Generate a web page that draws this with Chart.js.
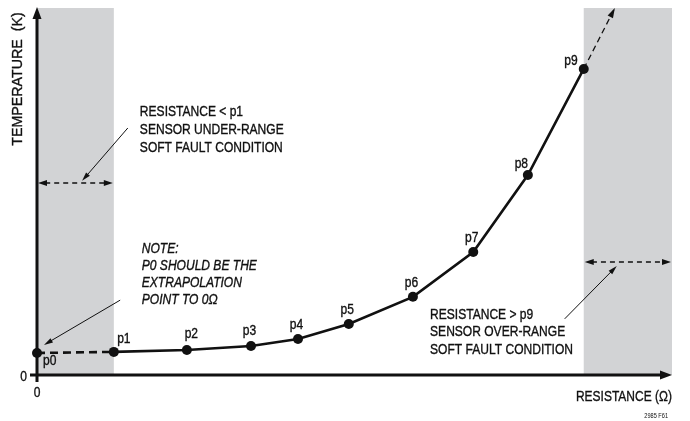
<!DOCTYPE html>
<html>
<head>
<meta charset="utf-8">
<script src="https://cdn.jsdelivr.net/npm/chart.js@4.4.1/dist/chart.umd.min.js"></script>
<style>
  html, body { margin: 0; padding: 0; background: #fff; }
</style>
</head>
<body>
<canvas id="sensorChart" width="690" height="421"></canvas>
<script>
// curve points (arbitrary units, 0..100 on both axes)
const pointNames  = ['p0', 'p1', 'p2', 'p3', 'p4', 'p5', 'p6', 'p7', 'p8', 'p9'];
const resistance  = [0, 12.1, 23.6, 33.7, 41.1, 49.1, 59.2, 68.7, 77.3, 86.1];
const temperature = [6.0, 6.3, 6.8, 7.9, 9.8, 13.9, 21.3, 33.5, 54.5, 83.4];
// dashed continuation past p9
const extensionX = [86.1, 91.0];
const extensionY = [83.4, 100];
// fault bands along the resistance axis
const underRange = [0, 12.1];
const overRange  = [86.1, 100];
const xTickLabels = ['0'];
const yTickLabels = ['0'];

const FONT = '"Liberation Sans", Arial, sans-serif';
const INK = '#111';

function drawText(ctx, text, x, y, size, opts) {
  opts = opts || {};
  const weight = opts.weight === undefined ? 0.35 : opts.weight;
  ctx.save();
  ctx.font = (opts.italic ? 'italic ' : '') + size + 'px ' + FONT;
  ctx.fillStyle = INK;
  ctx.strokeStyle = INK;
  ctx.textBaseline = 'alphabetic';
  ctx.translate(x, y);
  if (opts.rotate) ctx.rotate(opts.rotate);
  ctx.scale(opts.squeeze || 0.86, 1);
  const w = ctx.measureText(text).width;
  let dx = 0;
  if (opts.align === 'right') dx = -w;
  else if (opts.align === 'center') dx = -w / 2;
  ctx.fillText(text, dx, 0);
  if (weight > 0) {
    ctx.lineWidth = weight;
    ctx.strokeText(text, dx, 0);
  }
  ctx.restore();
}

function arrowHead(ctx, x1, y1, x2, y2, len, width) {
  const a = Math.atan2(y2 - y1, x2 - x1);
  ctx.save();
  ctx.translate(x2, y2);
  ctx.rotate(a);
  ctx.beginPath();
  ctx.moveTo(0, 0);
  ctx.lineTo(-len, width / 2);
  ctx.lineTo(-len, -width / 2);
  ctx.closePath();
  ctx.fill();
  ctx.restore();
}

// line from (x1,y1) to (x2,y2) with arrow at the end(s)
function arrowLine(ctx, x1, y1, x2, y2, o) {
  ctx.save();
  ctx.strokeStyle = INK;
  ctx.fillStyle = INK;
  ctx.lineWidth = o.width || 1;
  ctx.setLineDash(o.dash || []);
  const a = Math.atan2(y2 - y1, x2 - x1);
  const cut = o.len * 0.8;
  const sx = o.both ? x1 + Math.cos(a) * cut : x1;
  const sy = o.both ? y1 + Math.sin(a) * cut : y1;
  ctx.beginPath();
  ctx.moveTo(sx, sy);
  ctx.lineTo(x2 - Math.cos(a) * cut, y2 - Math.sin(a) * cut);
  ctx.stroke();
  ctx.setLineDash([]);
  arrowHead(ctx, x1, y1, x2, y2, o.len, o.head);
  if (o.both) arrowHead(ctx, x2, y2, x1, y1, o.len, o.head);
  ctx.restore();
}

const labelNudge = {
  p0: [6, 12, 'left'], p1: [10, -9], p2: [4.5, -12], p3: [-1.5, -11],
  p8: [-6.5, -7], p9: [-6, -4, 'right']
};

const decorPlugin = {
  id: 'decor',
  beforeDatasetsDraw(chart) {
    const ctx = chart.ctx;
    const x = chart.scales.x, y = chart.scales.y;
    const px = v => x.getPixelForValue(v), py = v => y.getPixelForValue(v);
    ctx.save();
    ctx.fillStyle = '#d2d3d5';
    [underRange, overRange].forEach(b => {
      ctx.fillRect(px(b[0]), py(100), px(b[1]) - px(b[0]), py(0) - py(100));
    });
    // axes
    ctx.strokeStyle = INK;
    ctx.fillStyle = INK;
    ctx.lineWidth = 3;
    ctx.beginPath();
    ctx.moveTo(px(0), py(0) + 7);
    ctx.lineTo(px(0), py(100) + 8);
    ctx.moveTo(px(0) - 7, py(0));
    ctx.lineTo(px(100) - 8, py(0));
    ctx.stroke();
    arrowHead(ctx, px(0), py(50), px(0), py(100) - 1, 12, 9);
    arrowHead(ctx, px(50), py(0), px(100), py(0), 12, 9);
    ctx.restore();

    // fault range double arrows
    arrowLine(ctx, px(underRange[0]) + 1, py(52.3), px(underRange[1]) - 1, py(52.3),
      { width: 1.4, dash: [5, 4], len: 9, head: 6, both: true });
    arrowLine(ctx, px(overRange[0]) + 1, py(30.8), px(overRange[1]) - 1, py(30.8),
      { width: 1.4, dash: [5, 4], len: 9, head: 6, both: true });
  },
  afterDatasetsDraw(chart) {
    const ctx = chart.ctx;
    const x = chart.scales.x, y = chart.scales.y;
    const px = v => x.getPixelForValue(v), py = v => y.getPixelForValue(v);

    // arrow on the dashed extension
    arrowHead(ctx, px(extensionX[0]), py(extensionY[0]), px(extensionX[1]), py(extensionY[1]), 10, 6);

    // point labels
    const meta = chart.getDatasetMeta(0);
    meta.data.forEach((pt, i) => {
      const n = labelNudge[pointNames[i]] || [-1.5, -10];
      drawText(ctx, pointNames[i], pt.x + n[0], pt.y + n[1], 14, { align: n[2] || 'center' });
    });

    // tick labels
    drawText(ctx, yTickLabels[0], px(0) - 10, py(0) + 6, 14, { align: 'right' });
    drawText(ctx, xTickLabels[0], px(0), py(0) + 22, 14, { align: 'center' });

    // axis titles
    drawText(ctx, 'RESISTANCE (\u03A9)', px(100), py(0) + 26, 15, { align: 'right', squeeze: 0.8 });
    drawText(ctx, 'TEMPERATURE  (K)', 22, py(100) + 71, 15, { align: 'center', rotate: -Math.PI / 2, squeeze: 0.95 });
    drawText(ctx, '2985 F61', px(100) - 4, py(0) + 43, 7, { align: 'right', squeeze: 0.8, weight: 0 });

    // annotations
    const lines = (arr, lx, ly, gap, opts) => arr.forEach((t, i) => drawText(ctx, t, lx, ly + i * gap, 14, opts));
    lines(['RESISTANCE < p1', 'SENSOR UNDER-RANGE', 'SOFT FAULT CONDITION'], px(16.2), py(70.6), 18);
    lines(['NOTE:', 'P0 SHOULD BE THE', 'EXTRAPOLATION', 'POINT TO 0\u03A9'], px(16.5), py(33.2), 17, { italic: true });
    lines(['RESISTANCE > p9', 'SENSOR OVER-RANGE', 'SOFT FAULT CONDITION'], px(61.9), py(15.3), 17.5);

    // leader arrows
    arrowLine(ctx, px(14.3), py(67.3), px(7.1), py(52.9), { width: 1, len: 9, head: 5 });
    arrowLine(ctx, px(13.1), py(20.4), px(1.1), py(8.2), { width: 1, len: 9, head: 5 });
    arrowLine(ctx, px(83.1), py(15.3), px(91.3), py(29.7), { width: 1, len: 9, head: 5 });
  }
};

const chart = new Chart(document.getElementById('sensorChart').getContext('2d'), {
  type: 'scatter',
  data: {
    datasets: [{
      label: 'Sensor curve',
      data: resistance.map((r, i) => ({ x: r, y: temperature[i] })),
      showLine: true,
      borderColor: INK,
      borderWidth: 2.6,
      backgroundColor: INK,
      pointRadius: 5,
      pointHoverRadius: 5,
      pointBorderWidth: 0,
      tension: 0,
      clip: false,
      segment: {
        borderDash: c => c.p0DataIndex === 0 ? [8, 5] : undefined
      }
    }, {
      label: 'Extrapolation',
      data: extensionX.map((r, i) => ({ x: r, y: extensionY[i] })),
      showLine: true,
      borderColor: INK,
      borderWidth: 1.3,
      borderDash: [6, 4],
      pointRadius: 0,
      clip: false
    }]
  },
  plugins: [decorPlugin],
  options: {
    responsive: false,
    animation: false,
    events: [],
    layout: { padding: { left: 37, right: 18, top: 8, bottom: 46 } },
    scales: {
      x: { type: 'linear', min: 0, max: 100, display: false },
      y: { type: 'linear', min: 0, max: 100, display: false }
    },
    plugins: {
      legend: { display: false },
      tooltip: { enabled: false }
    }
  }
});
</script>
</body>
</html>
